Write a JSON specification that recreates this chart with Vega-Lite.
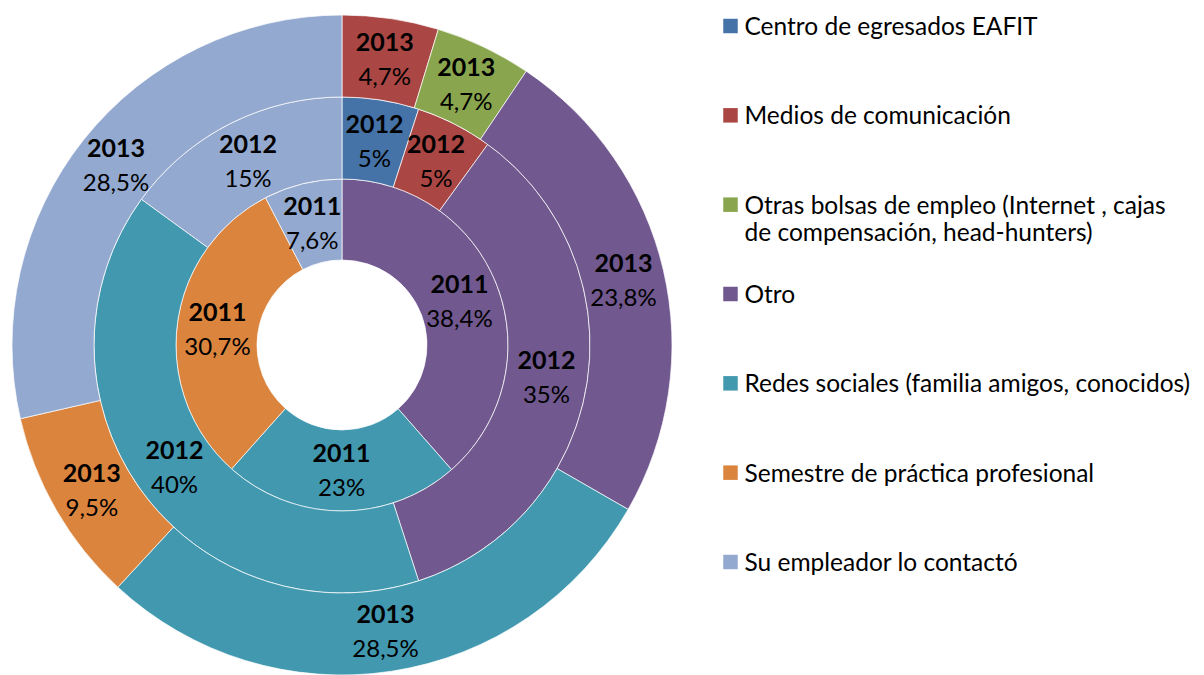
{
  "$schema": "https://vega.github.io/schema/vega-lite/v6.json",
  "padding": 0,
  "background": "white",
  "spacing": 39,
  "config": {"view": {"stroke": null}, "font": "Lato"},
  "datasets": {
    "rings": [
      {"year": 2011, "cat": "Otro", "value": 38.4, "label": "38,4%"},
      {"year": 2011, "cat": "Redes sociales (familia amigos, conocidos)", "value": 23, "label": "23%"},
      {"year": 2011, "cat": "Semestre de práctica profesional", "value": 30.7, "label": "30,7%"},
      {"year": 2011, "cat": "Su empleador lo contactó", "value": 7.6, "label": "7,6%"},
      {"year": 2012, "cat": "Centro de egresados EAFIT", "value": 5, "label": "5%"},
      {"year": 2012, "cat": "Medios de comunicación", "value": 5, "label": "5%"},
      {"year": 2012, "cat": "Otro", "value": 35, "label": "35%"},
      {"year": 2012, "cat": "Redes sociales (familia amigos, conocidos)", "value": 40, "label": "40%"},
      {"year": 2012, "cat": "Su empleador lo contactó", "value": 15, "label": "15%"},
      {"year": 2013, "cat": "Medios de comunicación", "value": 4.7, "label": "4,7%"},
      {"year": 2013, "cat": "Otras bolsas de empleo (Internet , cajas de compensación, head-hunters)", "value": 4.7, "label": "4,7%"},
      {"year": 2013, "cat": "Otro", "value": 23.8, "label": "23,8%"},
      {"year": 2013, "cat": "Redes sociales (familia amigos, conocidos)", "value": 28.5, "label": "28,5%"},
      {"year": 2013, "cat": "Semestre de práctica profesional", "value": 9.5, "label": "9,5%"},
      {"year": 2013, "cat": "Su empleador lo contactó", "value": 28.5, "label": "28,5%"}
    ],
    "cats": [
      {"cat": "Centro de egresados EAFIT", "label": "Centro de egresados EAFIT"},
      {"cat": "Medios de comunicación", "label": "Medios de comunicación"},
      {"cat": "Otras bolsas de empleo (Internet , cajas de compensación, head-hunters)", "label": "Otras bolsas de empleo (Internet , cajas\nde compensación, head-hunters)"},
      {"cat": "Otro", "label": "Otro"},
      {"cat": "Redes sociales (familia amigos, conocidos)", "label": "Redes sociales (familia amigos, conocidos)"},
      {"cat": "Semestre de práctica profesional", "label": "Semestre de práctica profesional"},
      {"cat": "Su empleador lo contactó", "label": "Su empleador lo contactó"}
    ]
  },
  "hconcat": [
    {
      "width": 684,
      "height": 690,
      "data": {"name": "rings"},
      "encoding": {
        "theta": {"field": "value", "type": "quantitative", "stack": "normalize"},
        "order": {"field": "cat", "type": "ordinal"}
      },
      "layer": [
        {
          "transform": [{"filter": "datum.year == 2011"}],
          "layer": [
            {"mark": {"type": "arc", "radius": 166, "radius2": 85, "stroke": "white", "strokeWidth": 0.7},
             "encoding": {"color": {"field": "cat", "type": "nominal", "legend": null,
               "scale": {"domain": ["Centro de egresados EAFIT", "Medios de comunicación", "Otras bolsas de empleo (Internet , cajas de compensación, head-hunters)", "Otro", "Redes sociales (familia amigos, conocidos)", "Semestre de práctica profesional", "Su empleador lo contactó"],
                         "range": ["#4572A7", "#AA4643", "#89A54E", "#71588F", "#4198AF", "#DB843D", "#93A9CF"]}}}},
            {"mark": {"type": "text", "radius": 125.5, "fontSize": 25, "fontWeight": "bold", "baseline": "alphabetic", "dy": -8, "font": "Lato"},
             "encoding": {"text": {"field": "year", "type": "nominal"}, "detail": {"field": "cat"}, "color": {"value": "black"}}},
            {"mark": {"type": "text", "radius": 125.5, "fontSize": 24, "baseline": "alphabetic", "dy": 26, "font": "Lato"},
             "encoding": {"text": {"field": "label", "type": "nominal"}, "detail": {"field": "cat"}, "color": {"value": "black"}}}
          ]
        },
        {
          "transform": [{"filter": "datum.year == 2012"}],
          "layer": [
            {"mark": {"type": "arc", "radius": 248, "radius2": 166, "stroke": "white", "strokeWidth": 0.7},
             "encoding": {"color": {"field": "cat", "type": "nominal", "legend": null}}},
            {"mark": {"type": "text", "radius": 207, "fontSize": 25, "fontWeight": "bold", "baseline": "alphabetic", "dy": -8, "font": "Lato"},
             "encoding": {"text": {"field": "year", "type": "nominal"}, "detail": {"field": "cat"}, "color": {"value": "black"}}},
            {"mark": {"type": "text", "radius": 207, "fontSize": 24, "baseline": "alphabetic", "dy": 26, "font": "Lato"},
             "encoding": {"text": {"field": "label", "type": "nominal"}, "detail": {"field": "cat"}, "color": {"value": "black"}}}
          ]
        },
        {
          "transform": [{"filter": "datum.year == 2013"}],
          "layer": [
            {"mark": {"type": "arc", "radius": 330, "radius2": 248, "stroke": "white", "strokeWidth": 0.7},
             "encoding": {"color": {"field": "cat", "type": "nominal", "legend": null}}},
            {"mark": {"type": "text", "radius": 289, "fontSize": 25, "fontWeight": "bold", "baseline": "alphabetic", "dy": -8, "font": "Lato"},
             "encoding": {"text": {"field": "year", "type": "nominal"}, "detail": {"field": "cat"}, "color": {"value": "black"}}},
            {"mark": {"type": "text", "radius": 289, "fontSize": 24, "baseline": "alphabetic", "dy": 26, "font": "Lato"},
             "encoding": {"text": {"field": "label", "type": "nominal"}, "detail": {"field": "cat"}, "color": {"value": "black"}}}
          ]
        }
      ]
    },
    {
      "width": 15,
      "height": 690,
      "data": {"name": "cats"},
      "encoding": {
        "y": {"field": "cat", "type": "nominal", "sort": null, "axis": null,
              "scale": {"type": "point", "range": [26, 562], "padding": 0}}
      },
      "layer": [
        {"mark": {"type": "point", "shape": "square", "filled": true, "size": 210, "opacity": 1},
         "encoding": {"color": {"field": "cat", "type": "nominal", "legend": null,
           "scale": {"domain": ["Centro de egresados EAFIT", "Medios de comunicación", "Otras bolsas de empleo (Internet , cajas de compensación, head-hunters)", "Otro", "Redes sociales (familia amigos, conocidos)", "Semestre de práctica profesional", "Su empleador lo contactó"],
                     "range": ["#4572A7", "#AA4643", "#89A54E", "#71588F", "#4198AF", "#DB843D", "#93A9CF"]}}}},
        {"mark": {"type": "text", "align": "left", "baseline": "alphabetic", "dx": 14, "dy": 9, "fontSize": 24.5, "lineHeight": 27, "lineBreak": "\n", "font": "Lato", "color": "black"},
         "encoding": {"text": {"field": "label", "type": "nominal"}}}
      ]
    }
  ]
}
